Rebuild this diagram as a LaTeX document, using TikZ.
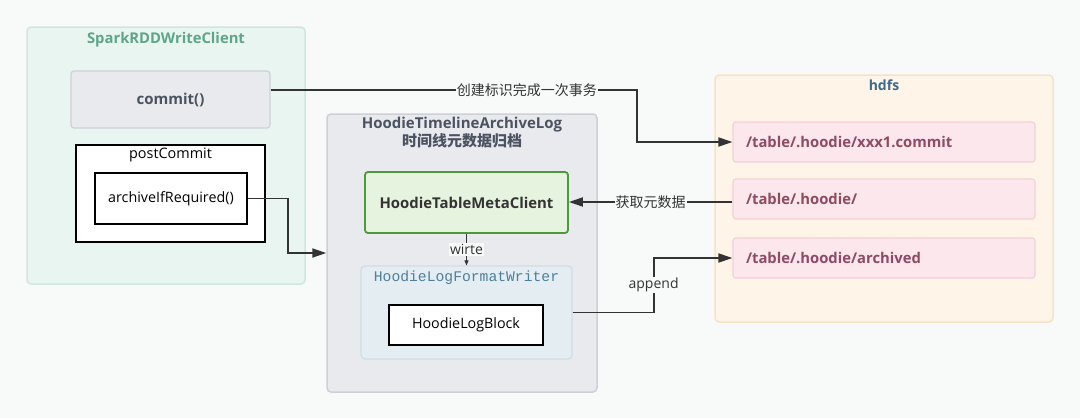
\documentclass[tikz,border=0pt]{standalone}
\usepackage{fontspec}
\setmainfont{Open Sans}
\setmonofont{Liberation Mono}
\newfontfamily\cjk{Noto Sans CJK SC}
\usetikzlibrary{arrows.meta, positioning}

\definecolor{bgcol}{HTML}{F8F9F9}
\definecolor{lncol}{HTML}{333333}
\definecolor{sparkfill}{HTML}{E9F5F0}
\definecolor{sparkline}{HTML}{CFE8DD}
\definecolor{sparktext}{HTML}{5FA58A}
\definecolor{greyfill}{HTML}{E8EAEE}
\definecolor{greyline}{HTML}{CDD1D7}
\definecolor{greytext}{HTML}{4B5261}
\definecolor{metafill}{HTML}{E5F3DF}
\definecolor{metaline}{HTML}{4C9A3C}
\definecolor{writerfill}{HTML}{E4EDF2}
\definecolor{writerline}{HTML}{CFDEE6}
\definecolor{writertext}{HTML}{4F7F9B}
\definecolor{hdfsfill}{HTML}{FEF4E7}
\definecolor{hdfsline}{HTML}{F6E2C9}
\definecolor{hdfstext}{HTML}{3E6A8C}
\definecolor{pathfill}{HTML}{FBE7EC}
\definecolor{pathline}{HTML}{F2D0D8}
\definecolor{pathtext}{HTML}{8E4B63}

\begin{document}
\begin{tikzpicture}[x=1pt, y=-1pt, >={Triangle[length=14pt, width=9pt]},
  group/.style={draw, rounded corners=4pt, line width=1.5pt},
  plain/.style={draw=black, fill=white, line width=1.6pt, font=\fontsize{14.3}{16}\selectfont},
  hpath/.style={draw=pathline, fill=pathfill, rounded corners=3pt, line width=1.2pt,
                minimum height=40pt, text width=276pt, inner xsep=13pt, align=left,
                font=\bfseries\fontsize{14.8}{17}\selectfont, text=pathtext},
  conn/.style={->, draw=lncol, line width=1.8pt},
  lbl/.style={fill=bgcol, inner sep=1pt, text=lncol, font=\fontsize{14}{16}\selectfont}]

  \path[fill=bgcol] (0,0) rectangle (1080,418);

  % left: write client
  \node[group, draw=sparkline, fill=sparkfill, minimum width=278pt, minimum height=257pt]
    (spark) at (166,155.5) {};
  \node[below=2pt of spark.north, text=sparktext, font=\bfseries\fontsize{14.8}{17}\selectfont]
    (sparkttl) {SparkRDDWriteClient};
  \node[draw=greyline, fill=greyfill, rounded corners=3pt, line width=1.2pt,
        minimum width=199pt, minimum height=57pt, text=greytext,
        font=\bfseries\fontsize{15}{17}\selectfont] (commit) at (170.5,99.5) {commit()};
  \node[plain, minimum width=189pt, minimum height=97pt] (post) at (170.5,193.5) {};
  \node[below=0pt of post.north, font=\fontsize{14.4}{16}\selectfont] (postttl) {postCommit};
  \node[plain, minimum width=152pt, minimum height=51pt] (arch) at (171,198.5) {archiveIfRequired()};

  % middle: archive log
  \node[group, draw=greyline, fill=greyfill, minimum width=270pt, minimum height=278pt]
    (archlog) at (462,253) {};
  \node[below=0pt of archlog.north, align=center, text=greytext,
        font=\bfseries\fontsize{15}{18}\selectfont]
    (archttl) {HoodieTimelineArchiveLog\\{\cjk 时间线元数据归档}};
  \node[draw=metaline, fill=metafill, rounded corners=3pt, line width=1.8pt,
        minimum width=203pt, minimum height=61pt, text=black!80,
        font=\bfseries\fontsize{14.9}{17}\selectfont] (meta) at (466.5,202.5) {HoodieTableMetaClient};
  \node[group, draw=writerline, fill=writerfill, line width=1.2pt,
        minimum width=211pt, minimum height=93pt] (writer) at (466.5,312.5) {};
  \node[below=2pt of writer.north, text=writertext, font=\ttfamily\fontsize{14.7}{16}\selectfont]
    (writerttl) {HoodieLogFormatWriter};
  \node[plain, minimum width=154pt, minimum height=40pt] (block) at (466,325) {HoodieLogBlock};

  % right: hdfs
  \node[group, draw=hdfsline, fill=hdfsfill, minimum width=338pt, minimum height=247pt]
    (hdfs) at (884,198.5) {};
  \node[below=2pt of hdfs.north, text=hdfstext, font=\bfseries\fontsize{14}{16}\selectfont]
    (hdfsttl) {hdfs};
  \node[hpath] (p1) at (884,142) {/table/.hoodie/xxx1.commit};
  \node[hpath] (p2) at (884,199) {/table/.hoodie/};
  \node[hpath] (p3) at (884,258) {/table/.hoodie/archived};

  % connectors
  \draw[conn] ([yshift=9.5pt]commit.east) -- node[lbl, pos=0.7] {\cjk 创建标识完成一次事务}
    ++(366,0) |- (p1.west);
  \draw[conn] (arch.east) -- ++(40,0) |- (archlog.west);
  \draw[conn] ([yshift=-3pt]p2.west) -- node[lbl] {\cjk 获取元数据}
    ([yshift=-3pt]p2.west -| meta.east);
  \draw[->, >={Triangle[length=5pt, width=4pt]}, draw=lncol, line width=0.8pt]
    (meta.south) -- node[lbl] {wirte} (writer.north);
  \draw[conn] (writer.east) -- ++(81,0) |- node[lbl, pos=0.25] {append} (p3.west);
\end{tikzpicture}
\end{document}
